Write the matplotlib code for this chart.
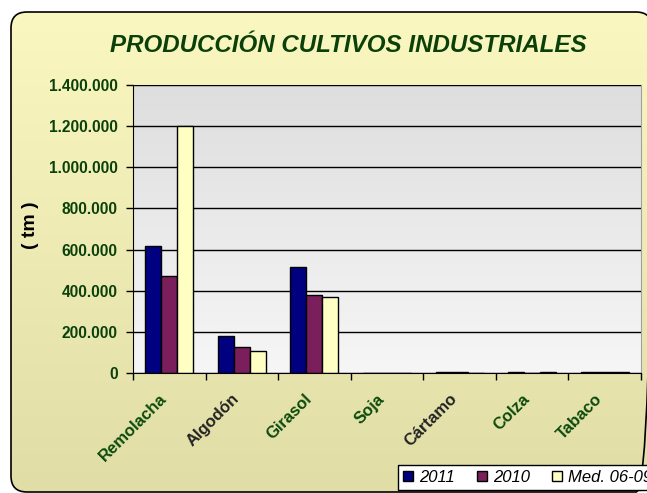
import numpy as np
import matplotlib
matplotlib.use("Agg")
from matplotlib import pyplot as plt
from matplotlib.patches import FancyBboxPatch
from matplotlib.ticker import FuncFormatter
from matplotlib.transforms import ScaledTranslation

plt.rcParams['font.family'] = ['Liberation Sans', 'DejaVu Sans']

categories = ["Remolacha", "Algodón", "Girasol", "Soja", "Cártamo", "Colza", "Tabaco"]
label_colors = ["#0b4a0b", "#222222", "#0b4a0b", "#0b4a0b", "#222222", "#0b4a0b", "#0b4a0b"]
series_names = ["2011", "2010", "Med. 06-09"]
prod_2011 = [615000, 178000, 515000, 0, 5000, 4000, 4000]
prod_2010 = [470000, 128000, 380000, 0, 4000, 0, 4000]
prod_med = [1201000, 105000, 369000, 0, 0, 4000, 4000]
y_ticks = [0, 200000, 400000, 600000, 800000, 1000000, 1200000, 1400000]

green = "#0b400b"
bar_colors = ["#000080", "#7b1f5c", "#ffffc4"]

fig = plt.figure(figsize=(6.47, 4.93), dpi=100)
fig.patch.set_facecolor("white")

# rounded background with vertical gradient
bg = fig.add_axes([0, 0, 1, 1], zorder=-5)
bg.axis("off")
frame = FancyBboxPatch((11, 12), 641, 480, boxstyle="round,pad=0,rounding_size=16",
                       facecolor="none", edgecolor="black", linewidth=1.2, transform=bg.transData)
top_c = np.array([250, 248, 192]) / 255
bot_c = np.array([224, 222, 166]) / 255
t = np.linspace(0, 1, 256)[:, None, None]
grad = top_c * (1 - t) + bot_c * t
img = bg.imshow(grad, extent=(11, 652, 492, 12), aspect="auto", interpolation="bilinear")
img.set_clip_path(frame)
bg.add_patch(frame)
bg.set_xlim(0, 647)
bg.set_ylim(493, 0)

ax = fig.add_axes([133 / 647, 1 - 373 / 493, 508 / 647, 288 / 493])
pa_top = np.array([222, 222, 222]) / 255
pa_bot = np.array([246, 246, 246]) / 255
grad2 = pa_top * (1 - t) + pa_bot * t
ax.imshow(grad2, extent=(0, 1, 0, 1), transform=ax.transAxes, aspect="auto", zorder=0)

x = np.arange(len(categories))
w = 0.22
for i, (vals, col) in enumerate(zip([prod_2011, prod_2010, prod_med], bar_colors)):
    ax.bar(x + (i - 1) * w, vals, width=w, color=col, edgecolor="black", linewidth=1,
           zorder=3, label=series_names[i])

ax.set_xlim(-0.5, len(categories) - 0.5)
ax.set_ylim(0, 1400000)
ax.set_yticks(y_ticks)
ax.yaxis.set_major_formatter(FuncFormatter(lambda v, p: f"{int(v):,}".replace(",", ".")))
ax.grid(axis="y", color="black", linewidth=1, zorder=1)
ax.set_axisbelow(False)
for lbl in ax.get_yticklabels():
    lbl.set_fontweight("bold")
    lbl.set_color(green)
    lbl.set_fontsize(11.2)
ax.tick_params(axis="y", length=5, width=1, pad=6, direction="out")

ax.set_xticks(np.arange(len(categories) + 1) - 0.5)
ax.set_xticklabels([])
ax.tick_params(axis="x", which="major", length=5, width=1, direction="out")
ax.set_xticks(x, minor=True)
ax.set_xticklabels(categories, minor=True, rotation=45, ha="right", va="center",
                   rotation_mode="anchor", fontsize=12, fontweight="bold")
ax.tick_params(axis="x", which="minor", length=0, pad=17)
shift = ScaledTranslation(-5 / 100, 0, fig.dpi_scale_trans)
for lbl, c in zip(ax.get_xticklabels(minor=True), label_colors):
    lbl.set_color(c)
    lbl.set_transform(lbl.get_transform() + shift)

for s in ["top", "right"]:
    ax.spines[s].set_color("#a0a0a0")
ax.spines["left"].set_color("black")
ax.spines["bottom"].set_color("black")
ax.spines["bottom"].set_zorder(5)

fig.text(31 / 647, 1 - 225 / 493, "( tm )", rotation=90, ha="center", va="center",
         fontsize=14, fontweight="bold", color="black")
fig.text(348 / 647, 1 - 45 / 493, "PRODUCCIÓN CULTIVOS INDUSTRIALES", ha="center", va="center",
         fontsize=17.4, fontweight="bold", fontstyle="italic", color=green)

leg = fig.legend(loc="upper left", bbox_to_anchor=(398 / 647, 1 - 465 / 493), ncol=3,
                 frameon=True, fancybox=False, edgecolor="black", framealpha=1,
                 prop={"style": "italic", "size": 12}, handlelength=0.6, handleheight=0.6,
                 handletextpad=0.35, columnspacing=1.35, borderpad=0.3, borderaxespad=0)
leg.get_frame().set_linewidth(1)

fig.savefig("out.png", dpi=100)
